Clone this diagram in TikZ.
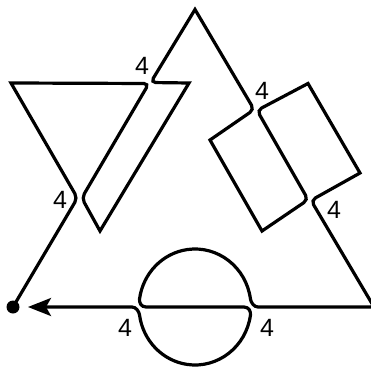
\documentclass[tikz,border=0pt]{standalone}
\usepackage{fontspec}
\setmainfont{Liberation Sans}
\usetikzlibrary{arrows.meta}

\begin{document}
\begin{tikzpicture}[x=1pt, y=-1pt, line width=3.2pt, line join=miter,
  twist/.style={font=\fontsize{25}{25}\selectfont, inner sep=0pt}]
  \useasboundingbox (0,0) rectangle (371,374);
  % corners of the outline
  \coordinate (D) at (13,307);
  \coordinate (F) at (11,83);
  \coordinate (V) at (100,231);
  \coordinate (H) at (189,83);
  \coordinate (A) at (195,9.5);
  \coordinate (L1) at (210,140);
  \coordinate (L2) at (262,231);
  \coordinate (Q1) at (308,83.5);
  \coordinate (Q2) at (360,173);
  \coordinate (R) at (374,307);
  % the two sides of each pinch
  \coordinate (p1l) at (77.4,198);
  \coordinate (p1r) at (81.8,198);
  \coordinate (p2a) at (150.7,82.5);
  \coordinate (p2b) at (148.9,83.5);
  \coordinate (p3l) at (254.1,109.6);
  \coordinate (p3r) at (257.1,110.4);
  \coordinate (p4l) at (308.1,199.7);
  \coordinate (p4r) at (311.0,200.4);
  \draw[-{Stealth[length=23pt,width=18pt,inset=5pt]}]
    (D) [rounded corners=5pt] -- (p1l) [sharp corners] -- (F)
    [rounded corners=5pt] -- (p2b) -- (p1r) [sharp corners] -- (V) -- (H)
    [rounded corners=5pt] -- (p2a) [sharp corners] -- (A)
    [rounded corners=5pt] -- (p3l) [sharp corners] -- (L1) -- (L2)
    [rounded corners=5pt] -- (p4l) -- (p3r) [sharp corners] -- (Q1) -- (Q2)
    [rounded corners=5pt] -- (p4r) [sharp corners] -- (R)
    -- (258,307) .. controls (254,307) and (250.9,302.5) .. (250.45,298.93)
    arc[start angle=352, end angle=188, x radius=56, y radius=58]
    .. controls (139.1,302.5) and (141,307) .. (146,307)
    -- (244,307) .. controls (249,307) and (250.9,311.5) .. (250.45,315.07)
    arc[start angle=8, end angle=172, x radius=56, y radius=58]
    .. controls (139.1,311.5) and (136,307) .. (132,307)
    -- (28,307);
  \fill (D) circle (6.5);
  \node[twist] (t1) at (60,200) {4};
  \node[twist] (t2) at (142,66) {4};
  \node[twist] (t3) at (262,91) {4};
  \node[twist] (t4) at (334,210) {4};
  \node[twist] (t5) at (125,328) {4};
  \node[twist] (t6) at (267,328) {4};
\end{tikzpicture}
\end{document}
